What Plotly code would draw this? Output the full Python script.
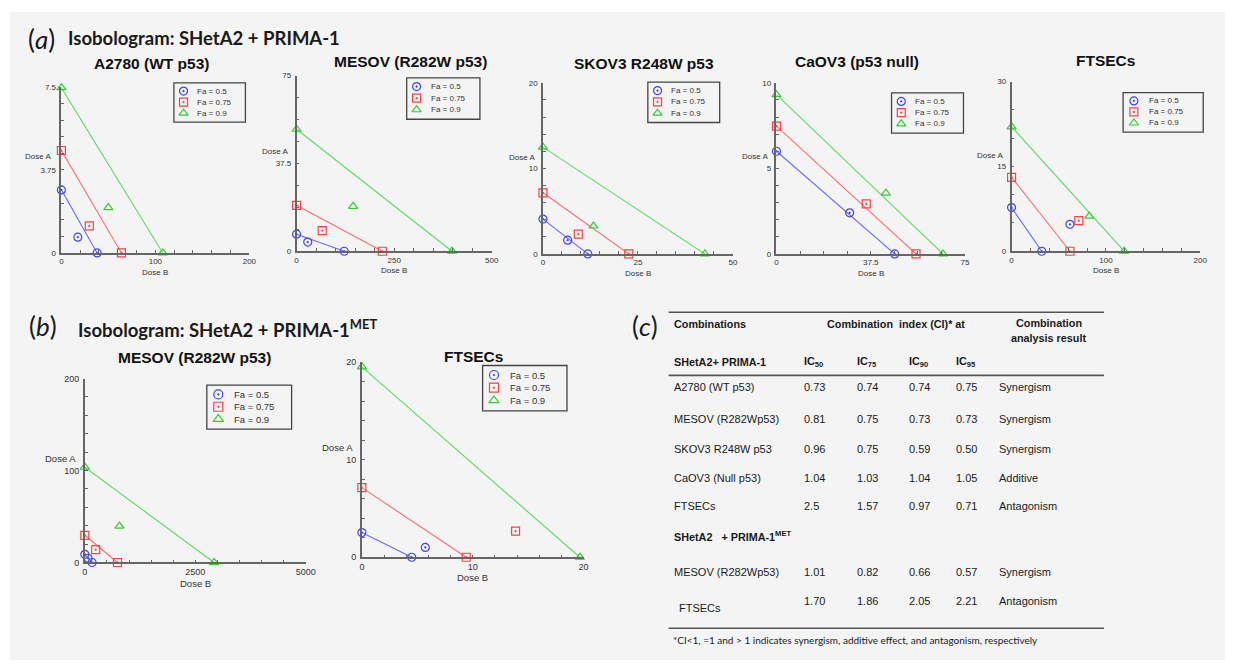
import numpy as np
import plotly.graph_objects as go

W, H = 1235, 665

# ---------------- data ----------------
fa_levels = [0.5, 0.75, 0.9]

# (a) SHetA2 + PRIMA-1 : dose A alone, dose B alone, combination (dose B, dose A)
a2780_doseA_alone = [2.85, 4.63, 7.47]
a2780_doseB_alone = [38.0, 63.9, 107.9]
a2780_comb_B = [17.5, 29.7, 49.9]
a2780_comb_A = [0.71, 1.22, 2.05]

mesov_doseA_alone = [7.3, 19.6, 52.1]
mesov_doseB_alone = [122.0, 219.7, 398.0]
mesov_comb_B = [28.6, 65.7, 144.8]
mesov_comb_A = [3.9, 8.8, 19.2]

skov3_doseA_alone = [4.07, 7.14, 12.48]
skov3_doseB_alone = [11.8, 22.6, 42.6]
skov3_comb_B = [6.5, 9.3, 13.3]
skov3_comb_A = [1.61, 2.3, 3.26]

caov3_doseA_alone = [6.0, 7.47, 9.31]
caov3_doseB_alone = [47.0, 55.5, 66.2]
caov3_comb_B = [29.1, 35.7, 43.5]
caov3_comb_A = [2.4, 2.92, 3.55]

ftsec_doseA_alone = [7.72, 13.06, 22.0]
ftsec_doseB_alone = [32.0, 61.9, 119.3]
ftsec_comb_B = [61.9, 71.3, 82.4]
ftsec_comb_A = [4.76, 5.4, 6.2]

# (b) SHetA2 + PRIMA-1MET
mesov_met_doseA_alone = [8.9, 29.6, 103.6]
mesov_met_doseB_alone = [164.0, 739.0, 2925.0]
mesov_met_comb_B = [75.0, 246.0, 784.0]
mesov_met_comb_A = [4.6, 13.9, 39.6]

ftsec_met_doseA_alone = [2.53, 7.14, 19.53]
ftsec_met_doseB_alone = [4.5, 9.42, 19.67]
ftsec_met_comb_B = [5.72, 13.87, None]
ftsec_met_comb_A = [1.01, 2.69, None]

# (c) table
tab_names_1 = ["A2780 (WT p53)", "MESOV (R282Wp53)", "SKOV3 R248W p53", "CaOV3 (Null p53)", "FTSECs"]
tab_ic50_1 = ["0.73", "0.81", "0.96", "1.04", "2.5"]
tab_ic75_1 = ["0.74", "0.75", "0.75", "1.03", "1.57"]
tab_ic90_1 = ["0.74", "0.73", "0.59", "1.04", "0.97"]
tab_ic95_1 = ["0.75", "0.73", "0.50", "1.05", "0.71"]
tab_result_1 = ["Synergism", "Synergism", "Synergism", "Additive", "Antagonism"]

tab_names_2 = ["MESOV (R282Wp53)", "FTSECs"]
tab_ic50_2 = ["1.01", "1.70"]
tab_ic75_2 = ["0.82", "1.86"]
tab_ic90_2 = ["0.66", "2.05"]
tab_ic95_2 = ["0.57", "2.21"]
tab_result_2 = ["Synergism", "Antagonism"]

data = {
    "a2780": (a2780_doseA_alone, a2780_doseB_alone, a2780_comb_B, a2780_comb_A),
    "mesov": (mesov_doseA_alone, mesov_doseB_alone, mesov_comb_B, mesov_comb_A),
    "skov3": (skov3_doseA_alone, skov3_doseB_alone, skov3_comb_B, skov3_comb_A),
    "caov3": (caov3_doseA_alone, caov3_doseB_alone, caov3_comb_B, caov3_comb_A),
    "ftsec": (ftsec_doseA_alone, ftsec_doseB_alone, ftsec_comb_B, ftsec_comb_A),
    "mesov_met": (mesov_met_doseA_alone, mesov_met_doseB_alone, mesov_met_comb_B, mesov_met_comb_A),
    "ftsec_met": (ftsec_met_doseA_alone, ftsec_met_doseB_alone, ftsec_met_comb_B, ftsec_met_comb_A),
}

# ---------------- layout of panels (pixels) ----------------
panels = [
    dict(key="a2780", title="A2780 (WT p53)", txy=(150, 59), xpx=(59, 249), ypx=(251.7, 83.3),
         xmax=200, ymax=7.5, xlab=[0, 100, 200], ylab=[0, 3.75, 7.5], nx=10, ny=10,
         leg=(172.7, 79, 245, 119), dA=(35.3, 154.3), big=False),
    dict(key="mesov", title="MESOV (R282W p53)", txy=(412, 57.7), xpx=(296.7, 494), ypx=(250, 71.7),
         xmax=500, ymax=75, xlab=[0, 250, 500], ylab=[0, 37.5, 75], nx=10, ny=8,
         leg=(408, 74, 482, 116), dA=(274.7, 148.3), big=False),
    dict(key="skov3", title="SKOV3 R248W p53", txy=(648, 59.3), xpx=(545.7, 737.7), ypx=(252.7, 79),
         xmax=50, ymax=20, xlab=[0, 25, 50], ylab=[0, 10, 20], nx=10, ny=10,
         leg=(651.7, 78.3, 724.3, 119.3), dA=(524.5, 155), big=False),
    dict(key="caov3", title="CaOV3 (p53 null)", txy=(863, 57.7), xpx=(781.7, 972.3), ypx=(252.7, 79),
         xmax=75, ymax=10, xlab=[0, 37.5, 75], ylab=[0, 5, 10], nx=8, ny=10,
         leg=(898, 89.3, 970.7, 130), dA=(759.7, 154.3), big=False),
    dict(key="ftsec", title="FTSECs", txy=(1114.7, 56.7), xpx=(1019.3, 1210), ypx=(250, 77.7),
         xmax=200, ymax=30, xlab=[0, 100, 200], ylab=[0, 15, 30], nx=10, ny=6,
         leg=(1132, 89, 1213, 129), dA=(998, 152.7), big=False),
    dict(key="mesov_met", title="MESOV (R282W p53)", txy=(193.7, 358.3), xpx=(82.7, 306), ypx=(566, 379.3),
         xmax=5000, ymax=200, xlab=[0, 2500, 5000], ylab=[0, 100, 200], nx=10, ny=10,
         leg=(206, 386, 291.7, 430.7), dA=(58, 460), big=True),
    dict(key="ftsec_met", title="FTSECs", txy=(475.7, 356.7), xpx=(362.7, 586.7), ypx=(560.7, 362.7),
         xmax=20, ymax=20, xlab=[0, 10, 20], ylab=[0, 10, 20], nx=10, ny=10,
         leg=(484.7, 366, 570, 412), dA=(337.7, 449.3), big=True),
]

mk_colors = ["#4040ff", "#ff4040", "#33cc33"]
ln_colors = ["#6a6aff", "#ff6a6a", "#5cdc5c"]
symbols = ["circle-open-dot", "square-open-dot", "triangle-up-open"]

AX_COL = "#666666"
TXT = "#333333"
FONT = "Liberation Sans, Arial, sans-serif"
CAL = "Lato, Carlito, Calibri, sans-serif"


def fx(x):
    return x / W


def fy(y):
    return 1 - y / H


def fmt(v):
    return f"{v:g}"


fig = go.Figure()
annotations = []
shapes = []
layout_axes = {}

# background panel
shapes.append(dict(type="rect", xref="paper", yref="paper", x0=fx(7), x1=1, y0=0, y1=fy(7),
                   fillcolor="#f4f4f4", line=dict(width=0), layer="below"))

for i, p in enumerate(panels, start=1):
    xs = "" if i == 1 else str(i)
    A_alone, B_alone, cB, cA = data[p["key"]]
    tfs = 9 if p["big"] else 8
    for j in range(3):
        fig.add_trace(go.Scatter(
            x=[0, B_alone[j]], y=[A_alone[j], 0], mode="lines+markers",
            line=dict(color=ln_colors[j], width=1.1),
            marker=dict(symbol=symbols[j], size=8, color=mk_colors[j], line=dict(width=1.2, color=mk_colors[j])),
            xaxis="x" + xs, yaxis="y" + xs, showlegend=False, cliponaxis=False, hoverinfo="skip"))
        if cB[j] is not None:
            fig.add_trace(go.Scatter(
                x=[cB[j]], y=[cA[j]], mode="markers",
                marker=dict(symbol=symbols[j], size=8, color=mk_colors[j], line=dict(width=1.2, color=mk_colors[j])),
                xaxis="x" + xs, yaxis="y" + xs, showlegend=False, cliponaxis=False, hoverinfo="skip"))
    xt = list(np.linspace(0, p["xmax"], p["nx"] + 1))
    yt = list(np.linspace(0, p["ymax"], p["ny"] + 1))
    common = dict(showgrid=False, zeroline=False, showline=True, linecolor=AX_COL, linewidth=1.5,
                  ticks="inside", ticklen=3, tickwidth=1, tickcolor=AX_COL,
                  tickfont=dict(family=FONT, size=tfs, color=TXT), fixedrange=True)
    layout_axes["xaxis" + xs] = dict(common, domain=[fx(p["xpx"][0]), fx(p["xpx"][1])],
                                     range=[0, p["xmax"]], tickvals=p["xlab"],
                                     ticktext=[fmt(v) for v in p["xlab"]],
                                     minor=dict(tickvals=xt, ticks="inside", ticklen=3, tickcolor=AX_COL),
                                     anchor="y" + xs)
    layout_axes["yaxis" + xs] = dict(common, domain=[fy(p["ypx"][0]), fy(p["ypx"][1])],
                                     range=[0, p["ymax"]], tickvals=p["ylab"],
                                     ticktext=[fmt(v) for v in p["ylab"]],
                                     minor=dict(tickvals=yt, ticks="inside", ticklen=3, tickcolor=AX_COL),
                                     anchor="x" + xs, ticklabelstandoff=2)
    # subplot title
    annotations.append(dict(x=fx(p["txy"][0]), y=fy(p["txy"][1]), xref="paper", yref="paper",
                            text="<b>%s</b>" % p["title"], showarrow=False, xanchor="center", yanchor="middle",
                            font=dict(family=FONT, size=15.5, color="#111111")))
    # axis titles
    lfs = 9.5 if p["big"] else 8
    annotations.append(dict(x=fx(p["dA"][0]), y=fy(p["dA"][1]), xref="paper", yref="paper",
                            text="Dose A", showarrow=False, xanchor="center", yanchor="middle",
                            font=dict(family=FONT, size=lfs, color=TXT)))
    annotations.append(dict(x=fx((p["xpx"][0] + p["xpx"][1]) / 2), y=fy(p["ypx"][0] + (21 if p["big"] else 19.5)),
                            xref="paper", yref="paper", text="Dose B", showarrow=False,
                            xanchor="center", yanchor="middle", font=dict(family=FONT, size=lfs, color=TXT)))
    # legend box
    x0, y0, x1, y1 = p["leg"]
    w, h = x1 - x0, y1 - y0
    shapes.append(dict(type="rect", xref="paper", yref="paper", x0=fx(x0), x1=fx(x1), y0=fy(y1), y1=fy(y0),
                       line=dict(color="#444444", width=1.3), fillcolor="rgba(0,0,0,0)"))
    lgf = 9.5 if p["big"] else 8
    for j, fa in enumerate(fa_levels):
        ry = y0 + h * (0.21 + 0.28 * j)
        fig.add_trace(go.Scatter(
            x=[x0 + 0.135 * w], y=[ry], mode="markers",
            marker=dict(symbol=symbols[j], size=8 if not p["big"] else 9, color=mk_colors[j],
                        line=dict(width=1.2, color=mk_colors[j])),
            xaxis="x8", yaxis="y8", showlegend=False, cliponaxis=False, hoverinfo="skip"))
        annotations.append(dict(x=fx(x0 + 0.30 * w), y=fy(ry), xref="paper", yref="paper",
                                text="Fa = %s" % fmt(fa), showarrow=False, xanchor="left", yanchor="middle",
                                font=dict(family=FONT, size=lgf, color=TXT)))

layout_axes["xaxis8"] = dict(domain=[0, 1], range=[0, W], visible=False, anchor="y8", fixedrange=True)
layout_axes["yaxis8"] = dict(domain=[0, 1], range=[H, 0], visible=False, anchor="x8", fixedrange=True)


def txt(x, y, s, size, family=FONT, anchor="left", color="#1a1a1a"):
    annotations.append(dict(x=fx(x), y=fy(y), xref="paper", yref="paper", text=s, showarrow=False,
                            xanchor=anchor, yanchor="middle", font=dict(family=family, size=size, color=color)))


# panel labels and headings
txt(23, 35, "(<i>a</i>)", 26, CAL)
txt(64, 33, "<b>Isobologram: SHetA2 + PRIMA-1</b>", 18.5, CAL)
txt(24, 326, "(<i>b</i>)", 26, CAL)
txt(74, 328, "<b>Isobologram: SHetA2 + PRIMA-1<sup>MET</sup></b>", 18.5, CAL)
txt(634, 326, "(<i>c</i>)", 26, CAL)

# table
TF = 11
col_x = [678, 809, 863, 916, 963, 1007]
for yy in (312, 376, 632.7):
    shapes.append(dict(type="line", xref="paper", yref="paper", x0=fx(672.7), x1=fx(1112.7),
                       y0=fy(yy), y1=fy(yy), line=dict(color="#555555", width=1.6)))
txt(676, 324, "<b>Combinations</b>", 10.8)
txt(902, 324, "<b>Combination  index (CI)* at</b>", 10.8, anchor="center")
txt(1057, 323, "<b>Combination</b>", 10.8, anchor="center")
txt(1057, 338, "<b>analysis result</b>", 10.8, anchor="center")
txt(676, 362, "<b>SHetA2+ PRIMA-1</b>", 10.8)
for cx, lab in zip(col_x[1:5], ["50", "75", "90", "95"]):
    txt(cx - 2, 362, "<b>IC<sub>%s</sub></b>" % lab, 10.8)

rows1_y = [388, 420, 451, 480, 509]
for k, ry in enumerate(rows1_y):
    vals = [tab_names_1[k], tab_ic50_1[k], tab_ic75_1[k], tab_ic90_1[k], tab_ic95_1[k], tab_result_1[k]]
    for cx, v in zip(col_x, vals):
        txt(cx - 2, ry, v, TF)

txt(676, 539, "<b>SHetA2   + PRIMA-1<sup>MET</sup></b>", 10.8)
rows2_y = [576, 605]
name2_pos = [(676, 576), (681, 612)]
for k, ry in enumerate(rows2_y):
    txt(name2_pos[k][0], name2_pos[k][1], tab_names_2[k], TF)
    vals = [tab_ic50_2[k], tab_ic75_2[k], tab_ic90_2[k], tab_ic95_2[k], tab_result_2[k]]
    for cx, v in zip(col_x[1:], vals):
        txt(cx - 2, ry, v, TF)

txt(675, 645, "*CI&lt;1, =1 and &gt; 1 indicates synergism, additive effect, and antagonism, respectively", 10, CAL)

fig.update_layout(
    autosize=True, margin=dict(l=0, r=0, t=0, b=0),
    paper_bgcolor="white", plot_bgcolor="rgba(0,0,0,0)",
    showlegend=False, annotations=annotations, shapes=shapes,
    **layout_axes,
)

# the graph div is pinned to the top-left corner of the page at exactly 1235x665 px
fig.write_html("out.html", config={"displayModeBar": False, "responsive": False},
               default_width="%dpx; position:absolute; left:0px; top:0px; margin:0px" % W,
               default_height="%dpx" % H)
